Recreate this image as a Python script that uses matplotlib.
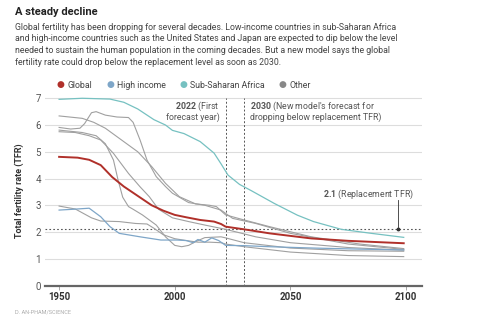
import matplotlib
matplotlib.use('Agg')
import matplotlib.pyplot as plt

plt.rcParams['font.family'] = ['Roboto', 'DejaVu Sans']
plt.rcParams['mathtext.fontset'] = 'custom'
plt.rcParams['mathtext.rm'] = 'Roboto'
plt.rcParams['mathtext.bf'] = 'Roboto:bold'

# series (year, total fertility rate)
global_years = [1950, 1958, 1963, 1968, 1973, 1978, 1984, 1990, 1995, 2000, 2005, 2011, 2017, 2020, 2022, 2030, 2041, 2059, 2075, 2099]
global_tfr = [4.81, 4.78, 4.7, 4.5, 4.05, 3.7, 3.35, 3.0, 2.8, 2.64, 2.55, 2.45, 2.39, 2.3, 2.2, 2.1, 1.95, 1.76, 1.67, 1.58]

high_years = [1950, 1956, 1963, 1968, 1972, 1976, 1985, 1994, 2001, 2005, 2008, 2010, 2013, 2016, 2019, 2022, 2030, 2041, 2060, 2080, 2099]
high_tfr = [2.82, 2.85, 2.89, 2.57, 2.2, 1.95, 1.82, 1.7, 1.7, 1.68, 1.6, 1.72, 1.62, 1.78, 1.68, 1.5, 1.49, 1.45, 1.4, 1.36, 1.33]

ssa_years = [1950, 1960, 1972, 1978, 1984, 1991, 1996, 1999, 2004, 2011, 2017, 2020, 2023, 2028, 2033, 2043, 2053, 2060, 2072, 2085, 2099]
ssa_tfr = [6.96, 7.0, 6.97, 6.85, 6.6, 6.2, 6.0, 5.8, 5.68, 5.38, 4.95, 4.55, 4.13, 3.78, 3.55, 3.07, 2.63, 2.39, 2.1, 1.95, 1.8]

other_a_years = [1950, 1960, 1965, 1970, 1977, 1984, 1990, 1996, 2002, 2009, 2015, 2018, 2022, 2030, 2041, 2059, 2080, 2099]
other_a_tfr = [6.34, 6.25, 6.1, 5.88, 5.44, 5.0, 4.45, 3.82, 3.32, 3.05, 3.0, 2.95, 2.64, 2.45, 2.2, 1.82, 1.55, 1.38]

other_b_years = [1950, 1955, 1959, 1961, 1964, 1966, 1970, 1975, 1980, 1982, 1985, 1988, 1992, 1996, 1999, 2006, 2013, 2020, 2025, 2035, 2050, 2075, 2099]
other_b_tfr = [5.91, 5.85, 5.88, 6.05, 6.46, 6.5, 6.37, 6.3, 6.28, 6.1, 5.44, 4.69, 4.07, 3.7, 3.45, 3.1, 3.0, 2.82, 2.51, 2.32, 1.95, 1.55, 1.35]

other_c_years = [1950, 1960, 1966, 1970, 1973.5, 1975.5, 1977.5, 1980, 1982, 1986, 1992, 1996, 2000, 2003, 2006, 2009, 2013, 2020, 2022, 2030, 2050, 2075, 2099]
other_c_tfr = [5.81, 5.72, 5.6, 5.3, 4.69, 3.94, 3.3, 2.95, 2.85, 2.64, 2.26, 1.82, 1.5, 1.45, 1.5, 1.64, 1.79, 1.82, 1.78, 1.6, 1.4, 1.3, 1.28]

other_d_years = [1950, 1957, 1963, 1968, 1973.5, 1980, 1985, 1989, 1993, 1999, 2006, 2013, 2022, 2029, 2035, 2050, 2075, 2099]
other_d_tfr = [5.75, 5.72, 5.6, 5.44, 4.94, 4.19, 3.69, 3.32, 2.85, 2.53, 2.39, 2.26, 2.1, 1.95, 1.82, 1.6, 1.42, 1.32]

other_e_years = [1950, 1957, 1964, 1968, 1976, 1983, 1988, 1991, 1995, 2000, 2005, 2010, 2015, 2020, 2022, 2030, 2050, 2075, 2099]
other_e_tfr = [2.97, 2.86, 2.53, 2.41, 2.39, 2.32, 2.3, 2.14, 1.9, 1.75, 1.68, 1.62, 1.62, 1.6, 1.55, 1.45, 1.25, 1.12, 1.08]

replacement = 2.1
marker_years = [2022, 2030]

red = '#b0302a'
blue = '#7ea6c8'
teal = '#76c1c1'
gray = '#a0a0a0'
dark = '#333333'

W, H = 482, 325
fig = plt.figure(figsize=(W / 100, H / 100), dpi=100)


def fx(x):
    return x / W


def fy(y):
    return 1 - y / H


fig.text(fx(15), fy(12), 'A steady decline', fontsize=8, fontweight='bold', color='#222222', va='center')
sub = ('Global fertility has been dropping for several decades. Low-income countries in sub-Saharan Africa\n'
       'and high-income countries such as the United States and Japan are expected to dip below the level\n'
       'needed to sustain the human population in the coming decades. But a new model says the global\n'
       'fertility rate could drop below the replacement level as soon as 2030.')
fig.text(fx(15), fy(22.5), sub, fontsize=6.3, color='#444444', va='top', linespacing=1.4)

# legend
for lx, c, name in [(60, red, 'Global'), (110, blue, 'High income'), (183, teal, 'Sub-Saharan Africa'), (282, '#888888', 'Other')]:
    fig.text(fx(lx), fy(85), '\u25CF', color=c, fontsize=6.5, ha='center', va='center')
    fig.text(fx(lx + 7), fy(85), name, color='#444444', fontsize=6.3, va='center')

ax = fig.add_axes([fx(45), fy(285.5), fx(422) - fx(45), fy(95.6) - fy(285.5)])
ax.set_xlim(1943.9, 2106.9)
ax.set_ylim(0, 7.1)
for s in ['top', 'right', 'left']:
    ax.spines[s].set_visible(False)
ax.spines['bottom'].set_color('#666666')
ax.spines['bottom'].set_linewidth(1.6)

for v in range(1, 8):
    ax.axhline(v, color='#dddddd', lw=0.8, zorder=0)

ax.set_yticks(range(0, 8))
ax.tick_params(axis='y', length=0, labelsize=7, labelcolor='#555555', pad=3)
ax.set_xticks([1950, 2000, 2050, 2100])
ax.tick_params(axis='x', length=3, width=0.6, color='#999999', labelsize=7, labelcolor=dark, pad=2)
for t in ax.get_xticklabels():
    t.set_fontweight('bold')
ax.set_ylabel('Total fertility rate (TFR)', fontsize=6.5, fontweight='bold', color=dark, labelpad=8)

for yrs, vals in [(other_a_years, other_a_tfr), (other_b_years, other_b_tfr), (other_c_years, other_c_tfr),
                  (other_d_years, other_d_tfr), (other_e_years, other_e_tfr)]:
    ax.plot(yrs, vals, color=gray, lw=0.8, zorder=2)
ax.plot(high_years, high_tfr, color=blue, lw=0.9, zorder=3)
ax.plot(ssa_years, ssa_tfr, color=teal, lw=0.9, zorder=3, clip_on=False)
ax.plot(global_years, global_tfr, color=red, lw=1.4, zorder=4)

ax.axhline(replacement, color='#555555', lw=0.8, ls=(0, (1.5, 2)), zorder=1)
for yr in marker_years:
    ax.plot([yr, yr], [0, 7], color='#555555', lw=0.7, ls=(0, (2, 2)), zorder=1)

ax.text(2019.3, 6.71, r'$\mathbf{2022}$ (First', ha='right', va='center', fontsize=6.3, color='#555555')
ax.text(2019.3, 6.28, 'forecast year)', ha='right', va='center', fontsize=6.3, color='#555555')
ax.text(2032.6, 6.71, r"$\mathbf{2030}$ (New model's forecast for", ha='left', va='center', fontsize=6.3, color='#555555')
ax.text(2032.6, 6.28, 'dropping below replacement TFR)', ha='left', va='center', fontsize=6.3, color='#555555')

ax.text(2103.2, 3.42, r'$\mathbf{2.1}$ (Replacement TFR)', ha='right', va='center', fontsize=6.3, color='#555555')
ax.plot([2096.6, 2096.6], [3.2, replacement], color='#333333', lw=0.6, zorder=5)
ax.plot([2096.6], [replacement], 'o', color='#333333', ms=1.8, zorder=5)

fig.text(fx(15), fy(311.5), 'D. AN-PHAM/SCIENCE', fontsize=4, color='#aaaaaa', va='center')

fig.savefig('out.png', dpi=100)
